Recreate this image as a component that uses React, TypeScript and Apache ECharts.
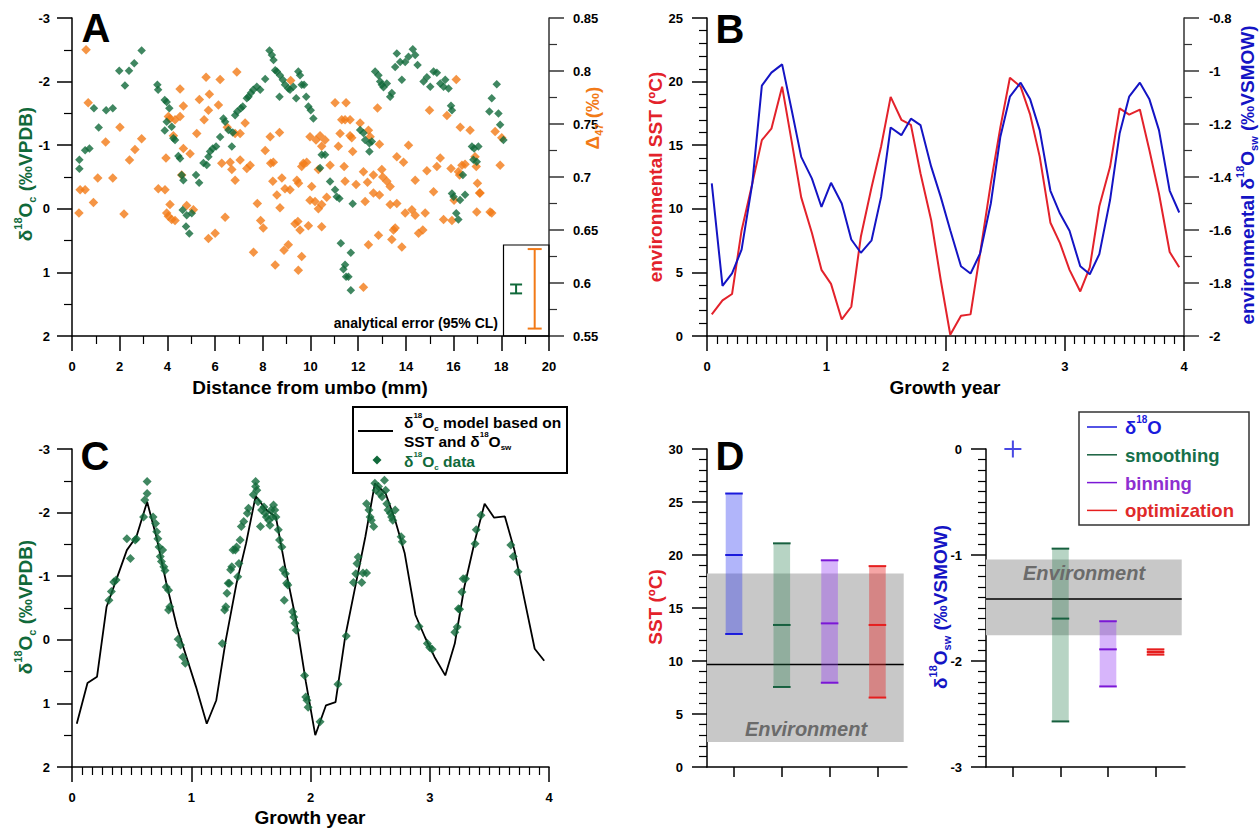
import React, { useEffect, useRef } from 'react';
import * as echarts from 'echarts';

const FONT = "'Liberation Sans', Arial, Helvetica, sans-serif";
const GREEN = '#10693a';
const ORANGE = '#f27a17';
const RED = '#e3222b';
const BLUE = '#1414c4';

// ---------- Panel A : distance from umbo (mm) ----------
const aGreen: number[][] = [
  [0.31,-0.77],[0.31,-0.63],[0.55,-0.92],[0.73,-0.95],[0.92,-1.58],[1.12,-1.28],[1.43,-1.55],[1.71,-1.58],[1.98,-2.17],[2.22,-1.94],[2.39,-2.17],[2.61,-2.29],[2.92,-2.49],[3.58,-1.95],[3.61,-1.87],[3.89,-1.71],[3.97,-1.68],[4.08,-1.58],[3.89,-1.23],[3.97,-1.37],[4.18,-1.29],[4.25,-1.11],[4.32,-1.08],[4.46,-0.83],[4.53,-0.79],[4.60,-0.53],[4.67,-0.45],[5.20,-0.53],[5.33,-0.41],[5.51,-0.72],[5.65,-0.69],[5.72,-0.82],[5.79,-0.90],[5.90,-0.95],[6.04,-0.98],[6.21,-1.13],[6.35,-1.42],[6.42,-1.37],[6.56,-1.24],[6.70,-0.98],[6.74,-1.20],[6.84,-1.47],[6.93,-1.53],[7.08,-1.58],[7.16,-1.61],[7.33,-1.74],[7.40,-1.76],[7.50,-1.82],[7.60,-1.87],[7.75,-1.92],[7.89,-1.87],[8.10,-2.04],[8.28,-2.49],[8.38,-2.42],[8.45,-2.34],[8.52,-2.18],[8.59,-2.16],[8.70,-1.76],[8.72,-2.10],[8.84,-2.03],[8.93,-1.95],[9.07,-1.89],[9.14,-1.87],[9.28,-1.92],[9.40,-1.74],[9.49,-2.16],[9.56,-2.10],[9.63,-1.95],[9.73,-1.95],[9.82,-1.76],[9.91,-1.61],[10.01,-1.55],[10.12,-1.42],
  [4.64,0.02],[4.81,0.10],[5.02,0.07],[4.78,0.28],[4.92,0.39],
  [10.40,-0.64],[10.47,-0.85],[10.61,-0.85],[10.82,-0.43],[11.03,-0.30],[11.10,-0.19],[12.08,-1.24],[12.22,-1.19],[12.29,-1.08],[12.47,-1.03],[12.57,-1.06],[12.47,-0.90],[12.71,-2.16],[12.85,-2.10],[12.92,-2.00],[12.99,-1.95],[13.06,-1.91],[13.20,-1.97],[13.34,-1.76],[13.41,-1.82],[13.55,-2.23],[13.62,-2.44],[13.76,-2.31],[13.83,-2.03],[13.97,-2.31],[14.11,-2.39],[14.29,-2.51],[14.39,-2.42],[14.49,-2.26],[14.74,-2.00],[14.88,-2.07],[15.02,-1.92],[15.16,-2.16],[15.30,-2.14],[15.44,-1.97],[15.58,-1.92],[15.65,-2.03],[15.79,-1.89],[15.89,-1.62],[15.93,-1.55],[16.77,-0.98],[16.86,-0.95],[17.04,-0.98],[16.83,-0.77],[16.97,-0.74],[17.50,-1.53],[17.60,-1.74],[17.81,-1.96],[17.88,-1.50],[17.95,-1.32],[18.09,-1.08],[16.39,-0.53],[16.00,-0.19],[15.93,-0.24],
  [11.21,-0.16],[11.77,-0.08],[11.27,0.54],[11.69,0.69],[11.38,0.95],[11.45,0.88],[11.49,1.07],[11.59,1.07],[11.69,1.28],[16.27,-0.14],[16.48,-0.22],[16.11,0.07],[16.20,0.17]
];

const aOrange: number[][] = [
  [0.59,0.820],[0.68,0.770],[2.01,0.747],[1.41,0.733],[1.08,0.699],[1.71,0.699],[2.41,0.716],[2.64,0.726],[2.92,0.736],[3.94,0.718],[4.04,0.757],[4.11,0.755],[4.32,0.754],[4.53,0.757],[4.67,0.767],[4.53,0.783],[4.25,0.739],[4.67,0.727],[4.95,0.722],[4.60,0.702],[5.23,0.741],[5.34,0.773],[5.54,0.754],[5.62,0.794],[5.76,0.778],[5.72,0.763],[6.14,0.768],[6.21,0.792],[6.91,0.799],[6.51,0.747],[6.84,0.741],[7.05,0.741],[7.26,0.751],[6.28,0.713],[6.63,0.714],[6.70,0.707],[6.84,0.697],[7.05,0.716],[7.33,0.708],[7.47,0.711],[8.10,0.725],[8.31,0.738],[8.70,0.742],[8.33,0.713],[8.44,0.714],[8.42,0.696],[8.80,0.699],[8.93,0.689],[8.59,0.683],[9.17,0.791],[9.98,0.738],[10.23,0.735],[9.63,0.710],[9.70,0.713],[9.84,0.714],[9.43,0.697],[9.50,0.694],[10.05,0.691],[10.33,0.707],[0.34,0.688],[0.55,0.688],[3.62,0.689],[3.90,0.688],
  [0.90,0.676],[0.29,0.666],[2.18,0.665],[4.11,0.674],[3.97,0.666],[4.04,0.663],[4.18,0.660],[4.32,0.659],[4.81,0.673],[5.09,0.669],[5.72,0.642],[6.00,0.647],[6.42,0.662],[7.61,0.629],[7.77,0.675],[7.91,0.659],[8.02,0.652],[8.52,0.617],[8.72,0.671],[8.89,0.631],[9.07,0.636],[9.49,0.612],[9.63,0.625],[9.35,0.656],[9.47,0.658],[9.56,0.650],[9.91,0.654],[9.98,0.678],[10.19,0.677],[10.33,0.670],
  [11.03,0.770],[11.49,0.770],[12.81,0.765],[11.31,0.754],[11.45,0.754],[11.66,0.754],[12.08,0.751],[12.43,0.744],[12.50,0.738],[12.89,0.731],[11.24,0.741],[11.66,0.739],[11.73,0.737],[10.40,0.739],[10.47,0.729],[10.61,0.735],[11.17,0.729],[11.77,0.724],[13.62,0.719],[14.11,0.730],[13.90,0.714],[14.99,0.763],[15.72,0.758],[16.11,0.792],[16.28,0.747],[16.69,0.744],[17.74,0.743],[18.02,0.737],[17.95,0.711],[14.39,0.697],[14.88,0.706],[15.30,0.710],[15.44,0.718],[15.89,0.708],[16.20,0.705],[16.35,0.711],[16.48,0.712],[16.25,0.702],[16.90,0.719],[16.95,0.710],[17.00,0.694],[17.09,0.685],[12.99,0.707],[13.03,0.700],[13.20,0.696],[13.34,0.691],[12.64,0.702],[12.39,0.695],[12.22,0.705],[11.91,0.693],[11.41,0.710],[11.45,0.696],[10.82,0.711],[9.14,0.688],
  [10.47,0.674],[10.68,0.681],[10.47,0.653],[12.29,0.677],[12.64,0.685],[12.89,0.683],[13.34,0.674],[13.55,0.652],[13.48,0.650],[13.41,0.641],[13.83,0.634],[12.85,0.645],[12.43,0.636],[13.62,0.675],[13.97,0.666],[14.25,0.669],[14.39,0.664],[14.53,0.647],[14.71,0.650],[14.81,0.666],[15.16,0.686],[15.58,0.660],[15.93,0.659],[16.02,0.678],[16.97,0.667],[17.11,0.685],[17.53,0.667],[17.60,0.666],[12.22,0.596]
];

// analytical error bars: [distance, low, high]
const errD47: number[][] = [[19.4, 0.557, 0.632]];
const errD18: number[][] = [[18.62, 1.19, 1.33]];

// ---------- Panel B / C : growth year ----------
const growthYear = [0.04,0.13,0.21,0.29,0.38,0.46,0.54,0.63,0.71,0.79,0.88,0.96,1.04,1.13,1.21,1.29,1.38,1.46,1.54,1.63,1.71,1.79,1.88,1.96,2.04,2.13,2.21,2.29,2.38,2.46,2.54,2.63,2.71,2.79,2.88,2.96,3.04,3.13,3.21,3.29,3.38,3.46,3.54,3.63,3.71,3.79,3.88,3.96];
const sst = [1.7,2.8,3.3,8.3,12.0,15.4,16.3,19.6,15.3,10.9,8.1,5.2,4.1,1.3,2.3,7.8,11.7,14.9,18.8,17.0,16.6,12.8,9.1,4.4,0.1,1.6,1.7,6.5,12.0,16.4,20.3,19.6,17.4,14.1,8.9,7.3,5.2,3.5,5.4,10.2,13.3,17.9,17.4,17.8,14.6,11.2,6.6,5.4];
const dsw = [-1.424,-1.811,-1.764,-1.674,-1.424,-1.055,-1.006,-0.975,-1.147,-1.324,-1.406,-1.513,-1.422,-1.500,-1.636,-1.686,-1.639,-1.475,-1.213,-1.242,-1.180,-1.204,-1.361,-1.475,-1.601,-1.737,-1.764,-1.689,-1.500,-1.248,-1.097,-1.044,-1.107,-1.223,-1.452,-1.538,-1.603,-1.737,-1.767,-1.691,-1.487,-1.236,-1.097,-1.044,-1.107,-1.223,-1.452,-1.534];
const model = [1.32,0.68,0.58,-0.52,-0.99,-1.41,-1.62,-2.17,-1.60,-0.90,-0.20,0.27,0.74,1.32,0.95,0.00,-0.89,-1.52,-2.26,-2.04,-1.93,-1.12,-0.30,0.65,1.50,1.03,0.98,-0.04,-0.88,-1.62,-2.46,-2.30,-1.88,-1.36,-0.39,-0.04,0.27,0.56,0.06,-0.83,-1.57,-2.14,-1.92,-1.94,-1.41,-0.67,0.14,0.33];
const cData: number[][] = [
  [0.31,-0.62],[0.33,-0.76],[0.35,-0.91],[0.37,-0.94],[0.46,-1.59],[0.49,-1.28],[0.53,-1.57],[0.54,-1.59],[0.60,-1.93],[0.61,-2.20],[0.63,-2.30],[0.63,-2.49],[0.68,-1.93],[0.70,-1.83],[0.71,-1.70],[0.72,-1.59],[0.73,-1.46],[0.74,-1.31],[0.75,-1.23],[0.76,-1.41],[0.77,-1.15],[0.78,-1.09],[0.79,-0.83],[0.81,-0.78],[0.82,-0.52],[0.81,-0.47],[0.89,-0.01],[0.91,0.08],[0.93,0.27],[0.95,0.37],
  [1.26,0.06],[1.28,-0.47],[1.29,-0.52],[1.30,-0.73],[1.31,-0.89],[1.32,-0.89],[1.33,-1.10],[1.34,-1.15],[1.35,-1.41],[1.37,-1.41],[1.38,-1.46],[1.39,-0.99],[1.40,-1.20],[1.41,-1.57],[1.42,-1.78],[1.44,-1.86],[1.47,-1.99],[1.48,-2.07],[1.52,-2.28],[1.54,-2.49],[1.54,-2.41],[1.55,-2.35],[1.56,-2.17],[1.58,-1.78],[1.59,-2.04],[1.61,-2.09],[1.62,-1.99],[1.63,-1.93],[1.65,-1.88],[1.66,-1.80],[1.67,-2.04],[1.68,-1.93],[1.69,-2.12],[1.70,-2.04],[1.71,-1.93],[1.73,-1.73],[1.74,-1.57],[1.76,-1.46],[1.77,-1.10],[1.78,-0.62],[1.79,-1.04],[1.80,-0.89],[1.81,-0.86],[1.85,-0.44],[1.86,-0.36],[1.87,-0.26],[1.88,-0.15],[1.95,0.56],[1.96,0.90],[1.97,0.95],[1.98,1.06],[2.08,1.29],
  [2.23,0.70],[2.30,-0.06],[2.36,-0.90],[2.43,-0.90],[2.38,-1.04],[2.39,-1.20],[2.40,-1.30],[2.44,-1.05],[2.47,-1.05],[2.47,-2.14],[2.49,-2.04],[2.50,-1.93],[2.51,-1.88],[2.53,-1.78],[2.54,-2.46],[2.55,-2.35],[2.57,-2.41],[2.58,-2.30],[2.60,-2.25],[2.62,-2.51],[2.63,-2.35],[2.64,-2.14],[2.65,-2.04],[2.67,-1.99],[2.68,-1.93],[2.69,-1.88],[2.71,-2.04],[2.76,-1.62],[2.77,-1.54],[2.91,-0.21],[2.98,0.06],[3.00,0.12],[3.02,0.15],[3.21,-0.12],[3.23,-0.20],[3.24,-0.49],[3.25,-0.48],[3.27,-0.75],[3.28,-0.96],[3.30,-0.96],[3.38,-1.51],[3.39,-1.73],[3.43,-1.96],[3.68,-1.49],[3.70,-1.31],[3.74,-1.07]
];

// ---------- Panel D ----------
const methods = ['δ18O', 'smoothing', 'binning', 'optimization'];
const catPos = [1, 2, 3, 4];
const sstLow = [12.55, 7.55, 7.95, 6.55];
const sstMid = [20.0, 13.4, 13.55, 13.4];
const sstHigh = [25.8, 21.1, 19.5, 18.95];
const dswLow = [0, -2.57, -2.24, -1.94];
const dswMid = [0, -1.6, -1.89, -1.915];
const dswHigh = [0, -0.94, -1.625, -1.89];
const envSST = [2.36, 9.66, 18.25]; // low, mean, high
const envDsw = [-1.758, -1.415, -1.043];

const methodStroke = ['#1a1adc', '#17603f', '#7b17d6', '#e61e1e'];
const methodFill = ['rgba(40,50,240,0.36)', 'rgba(30,120,70,0.32)', 'rgba(150,60,245,0.38)', 'rgba(230,40,40,0.42)'];
const methodText = ['#1a1adc', '#17704a', '#8d2ed0', '#e02a2a'];

function valAxis(o: any) {
  return {
    type: 'value',
    gridIndex: o.grid,
    min: o.min,
    max: o.max,
    interval: o.interval,
    inverse: !!o.inverse,
    position: o.position,
    axisLine: { show: true, onZero: false, lineStyle: { color: o.lineColor || '#000', width: 1.5 } },
    axisTick: { show: true, inside: false, length: o.tickLen || 15, lineStyle: { color: o.lineColor || '#000', width: 1.5 } },
    minorTick: { show: !!o.minor, splitNumber: o.minor || 2, length: 8, lineStyle: { color: o.lineColor || '#000', width: 1.2 } },
    splitLine: { show: false },
    minorSplitLine: { show: false },
    axisLabel: { show: o.label !== false, color: '#000', fontWeight: 'bold', fontSize: 13, fontFamily: FONT, margin: o.margin || 22 },
  };
}

function richStyles(color: string, size: number, supSize: number) {
  const base = { fill: color, color, fontFamily: FONT, fontWeight: 'bold' };
  return {
    n: { ...base, fontSize: size, lineHeight: size + 6 },
    sup: { ...base, fontSize: supSize, lineHeight: supSize + 1, verticalAlign: 'top' },
    sub: { ...base, fontSize: supSize, lineHeight: supSize + 1, verticalAlign: 'bottom' },
  };
}

function rtext(x: number, y: number, text: string, color: string, size: number, supSize: number, opts: any = {}) {
  return {
    type: 'text', x, y, z: 100, silent: true,
    rotation: opts.rotation || 0,
    style: {
      text,
      rich: richStyles(color, size, supSize),
      fill: color,
      font: `bold ${size}px ${FONT}`,
      align: opts.align || 'center',
      verticalAlign: 'middle',
    },
  };
}

function ptext(x: number, y: number, text: string, color: string, size: number, opts: any = {}) {
  return {
    type: 'text', x, y, z: 100, silent: true,
    rotation: opts.rotation || 0,
    style: {
      text,
      fill: color,
      font: `${opts.italic ? 'italic ' : ''}bold ${size}px ${FONT}`,
      align: opts.align || 'center',
      verticalAlign: 'middle',
    },
  };
}

function errSeries(xi: number, yi: number, data: number[][], color: string, cap: number) {
  return {
    type: 'custom', xAxisIndex: xi, yAxisIndex: yi, data, z: 5, clip: false,
    renderItem: (params: any, api: any) => {
      const x = api.value(0), lo = api.value(1), hi = api.value(2);
      const p1 = api.coord([x, lo]);
      const p2 = api.coord([x, hi]);
      const st = { stroke: color, lineWidth: 2 };
      return {
        type: 'group',
        children: [
          { type: 'line', shape: { x1: p1[0], y1: p1[1], x2: p2[0], y2: p2[1] }, style: st },
          { type: 'line', shape: { x1: p1[0] - cap, y1: p1[1], x2: p1[0] + cap, y2: p1[1] }, style: st },
          { type: 'line', shape: { x1: p2[0] - cap, y1: p2[1], x2: p2[0] + cap, y2: p2[1] }, style: st },
        ],
      };
    },
  };
}

function bandSeries(xi: number, yi: number, env: number[]) {
  return {
    type: 'custom', xAxisIndex: xi, yAxisIndex: yi, data: [env], z: 1, clip: false,
    renderItem: (params: any, api: any) => {
      const lo = api.value(0), mean = api.value(1), hi = api.value(2);
      const p1 = api.coord([0.435, hi]);
      const p2 = api.coord([4.55, lo]);
      const pm1 = api.coord([0.435, mean]);
      const pm2 = api.coord([4.55, mean]);
      return {
        type: 'group',
        children: [
          { type: 'rect', shape: { x: p1[0], y: p1[1], width: p2[0] - p1[0], height: p2[1] - p1[1] }, style: { fill: '#c8c8c8' } },
          { type: 'line', shape: { x1: pm1[0], y1: pm1[1], x2: pm2[0], y2: pm2[1] }, style: { stroke: '#000', lineWidth: 1.5 } },
        ],
      };
    },
  };
}

function rangeSeries(xi: number, yi: number, rows: number[][]) {
  return {
    type: 'custom', xAxisIndex: xi, yAxisIndex: yi, data: rows, z: 3, clip: false,
    renderItem: (params: any, api: any) => {
      const c = api.value(0), lo = api.value(1), mid = api.value(2), hi = api.value(3), ci = api.value(4);
      const pH = api.coord([c, hi]);
      const pL = api.coord([c, lo]);
      const pM = api.coord([c, mid]);
      const hw = 8.3;
      const st = { stroke: methodStroke[ci], lineWidth: 2 };
      return {
        type: 'group',
        children: [
          { type: 'rect', shape: { x: pH[0] - hw, y: pH[1], width: 2 * hw, height: pL[1] - pH[1] }, style: { fill: methodFill[ci] } },
          { type: 'line', shape: { x1: pH[0] - hw - 0.5, y1: pH[1], x2: pH[0] + hw + 0.5, y2: pH[1] }, style: st },
          { type: 'line', shape: { x1: pM[0] - hw - 0.5, y1: pM[1], x2: pM[0] + hw + 0.5, y2: pM[1] }, style: st },
          { type: 'line', shape: { x1: pL[0] - hw - 0.5, y1: pL[1], x2: pL[0] + hw + 0.5, y2: pL[1] }, style: st },
        ],
      };
    },
  };
}

function dAxisX(grid: number) {
  return {
    type: 'value', gridIndex: grid, min: 0.435, max: 4.619,
    axisLine: { show: true, onZero: false, lineStyle: { color: '#000', width: 1.5 } },
    axisTick: { show: true, length: 10, customValues: catPos, lineStyle: { color: '#000', width: 1.5 } },
    axisLabel: { show: false },
    splitLine: { show: false },
  };
}

const sstRows = methods.map((m, i) => [catPos[i], sstLow[i], sstMid[i], sstHigh[i], i]);
const dswRows = methods.map((m, i) => [catPos[i], dswLow[i], dswMid[i], dswHigh[i], i]).filter((r) => r[4] !== 0);
const dswPoint = [[catPos[0], dswMid[0]]];

const title18c = '{n|δ}{sup|18}{n|O}{sub|c}{n| (‰VPDB)}';

const option: any = {
  animation: false,
  backgroundColor: '#fff',
  grid: [
    { left: 72, top: 18, width: 477, height: 318 },
    { left: 707, top: 18, width: 477, height: 318 },
    { left: 72, top: 449, width: 477, height: 318 },
    { left: 707, top: 449, width: 200, height: 318 },
    { left: 986, top: 449, width: 199, height: 318 },
  ],
  xAxis: [
    valAxis({ grid: 0, min: 0, max: 20, interval: 2, minor: 2, margin: 24 }),
    valAxis({ grid: 1, min: 0, max: 4, interval: 1, minor: 12, margin: 24 }),
    valAxis({ grid: 2, min: 0, max: 4, interval: 1, minor: 12, margin: 24 }),
    dAxisX(3),
    dAxisX(4),
  ],
  yAxis: [
    valAxis({ grid: 0, min: -3, max: 2, interval: 1, inverse: true, minor: 2, margin: 22 }),
    valAxis({ grid: 0, min: 0.55, max: 0.85, interval: 0.05, minor: 2, position: 'right', margin: 24, lineColor: '#333' }),
    valAxis({ grid: 1, min: 0, max: 25, interval: 5, minor: 5, margin: 24 }),
    valAxis({ grid: 1, min: -2, max: -0.8, interval: 0.2, minor: 2, position: 'right', margin: 25, lineColor: '#333' }),
    valAxis({ grid: 2, min: -3, max: 2, interval: 1, inverse: true, minor: 2, margin: 22 }),
    valAxis({ grid: 3, min: 0, max: 30, interval: 5, minor: 5, margin: 24 }),
    valAxis({ grid: 4, min: -3, max: 0, interval: 1, minor: 10, margin: 24 }),
  ],
  series: [
    { type: 'scatter', xAxisIndex: 0, yAxisIndex: 1, data: aOrange, symbol: 'diamond', symbolSize: 9.5, itemStyle: { color: ORANGE }, z: 2 },
    { type: 'scatter', xAxisIndex: 0, yAxisIndex: 0, data: aGreen, symbol: 'diamond', symbolSize: 8.5, itemStyle: { color: GREEN }, z: 3 },
    errSeries(0, 1, errD47, ORANGE, 7),
    errSeries(0, 0, errD18, GREEN, 6),
    { type: 'line', xAxisIndex: 1, yAxisIndex: 2, data: growthYear.map((t, i) => [t, sst[i]]), symbol: 'none', lineStyle: { color: RED, width: 2 }, z: 3 },
    { type: 'line', xAxisIndex: 1, yAxisIndex: 3, data: growthYear.map((t, i) => [t, dsw[i]]), symbol: 'none', lineStyle: { color: BLUE, width: 2 }, z: 4 },
    { type: 'line', xAxisIndex: 2, yAxisIndex: 4, data: growthYear.map((t, i) => [t, model[i]]), symbol: 'none', lineStyle: { color: '#000', width: 1.8 }, z: 3 },
    { type: 'scatter', xAxisIndex: 2, yAxisIndex: 4, data: cData, symbol: 'diamond', symbolSize: 9, itemStyle: { color: GREEN }, z: 4 },
    bandSeries(3, 5, envSST),
    rangeSeries(3, 5, sstRows),
    bandSeries(4, 6, envDsw),
    rangeSeries(4, 6, dswRows),
    {
      type: 'scatter', xAxisIndex: 4, yAxisIndex: 6, data: dswPoint, clip: false, z: 5,
      symbol: 'path://M7.5,0H9.5V7.5H17V9.5H9.5V17H7.5V9.5H0V7.5H7.5Z', symbolSize: [17, 17],
      itemStyle: { color: methodStroke[0] },
    },
  ],
  graphic: {
    elements: [
      // panel letters
      ptext(96, 28, 'A', '#000', 40),
      ptext(730, 29, 'B', '#000', 40),
      ptext(95, 456, 'C', '#000', 40),
      ptext(730, 456, 'D', '#000', 40),
      // panel A titles
      rtext(25, 174, title18c, GREEN, 19, 11, { rotation: Math.PI / 2 }),
      rtext(592, 118, '{n|Δ}{sub|47}{n| (‰)}', ORANGE, 19, 11, { rotation: Math.PI / 2 }),
      ptext(310, 387, 'Distance from umbo (mm)', '#000', 19),
      // analytical error box
      { type: 'rect', z: 4, silent: true, shape: { x: 503.5, y: 245, width: 45.5, height: 91 }, style: { fill: 'none', stroke: '#000', lineWidth: 1.2 } },
      ptext(498, 323, 'analytical error (95% CL)', '#000', 14, { align: 'right' }),
      // panel B titles
      ptext(655, 177, 'environmental SST (ºC)', RED, 19, { rotation: Math.PI / 2 }),
      rtext(1247, 175, '{n|environmental δ}{sup|18}{n|O}{sub|sw}{n| (‰VSMOW)}', BLUE, 19, 11, { rotation: Math.PI / 2 }),
      ptext(945, 387, 'Growth year', '#000', 19),
      // panel C
      rtext(25, 607, title18c, GREEN, 19, 11, { rotation: Math.PI / 2 }),
      ptext(310, 817, 'Growth year', '#000', 19),
      { type: 'rect', z: 50, silent: true, shape: { x: 353, y: 407, width: 214, height: 66 }, style: { fill: '#fff', stroke: '#000', lineWidth: 2 } },
      { type: 'line', z: 101, silent: true, shape: { x1: 358, y1: 431, x2: 393, y2: 431 }, style: { stroke: '#000', lineWidth: 2 } },
      rtext(404, 422, '{n|δ}{sup|18}{n|O}{sub|c}{n| model based on}', '#000', 15.5, 8, { align: 'left' }),
      rtext(404, 441, '{n|SST and δ}{sup|18}{n|O}{sub|sw}', '#000', 15.5, 8, { align: 'left' }),
      { type: 'polygon', z: 101, silent: true, shape: { points: [[377, 455.5], [381.5, 460], [377, 464.5], [372.5, 460]] }, style: { fill: GREEN } },
      rtext(404, 461, '{n|δ}{sup|18}{n|O}{sub|c}{n| data}', GREEN, 15.5, 8, { align: 'left' }),
      // panel D
      ptext(655, 607, 'SST (ºC)', RED, 19, { rotation: Math.PI / 2 }),
      rtext(940, 607, '{n|δ}{sup|18}{n|O}{sub|sw}{n| (‰VSMOW)}', BLUE, 19, 11, { rotation: Math.PI / 2 }),
      ptext(806, 729, 'Environment', '#6b6b6b', 20, { italic: true }),
      ptext(1084, 573, 'Environment', '#6b6b6b', 20, { italic: true }),
      { type: 'rect', z: 50, silent: true, shape: { x: 1079, y: 412, width: 170, height: 113 }, style: { fill: '#fff', stroke: '#333', lineWidth: 1.5 } },
      ...methods.map((m, i) => ({ type: 'line', z: 101, silent: true, shape: { x1: 1087, y1: 427 + i * 27.8, x2: 1117, y2: 427 + i * 27.8 }, style: { stroke: methodStroke[i], lineWidth: 1.5 } })),
      rtext(1125, 427, '{n|δ}{sup|18}{n|O}', methodText[0], 18.5, 10, { align: 'left' }),
      ptext(1125, 455, methods[1], methodText[1], 18.5, { align: 'left' }),
      ptext(1125, 483, methods[2], methodText[2], 18.5, { align: 'left' }),
      ptext(1125, 510, methods[3], methodText[3], 18.5, { align: 'left' }),
    ],
  },
};

export default function App() {
  const ref = useRef<HTMLDivElement>(null);
  useEffect(() => {
    const chart = echarts.init(ref.current as HTMLDivElement, null, { renderer: 'svg' });
    chart.setOption(option);
    return () => chart.dispose();
  }, []);
  return (
    <div
      ref={ref}
      style={{ position: 'absolute', left: 0, top: 0, width: 1260, height: 829, background: '#fff' }}
    />
  );
}
